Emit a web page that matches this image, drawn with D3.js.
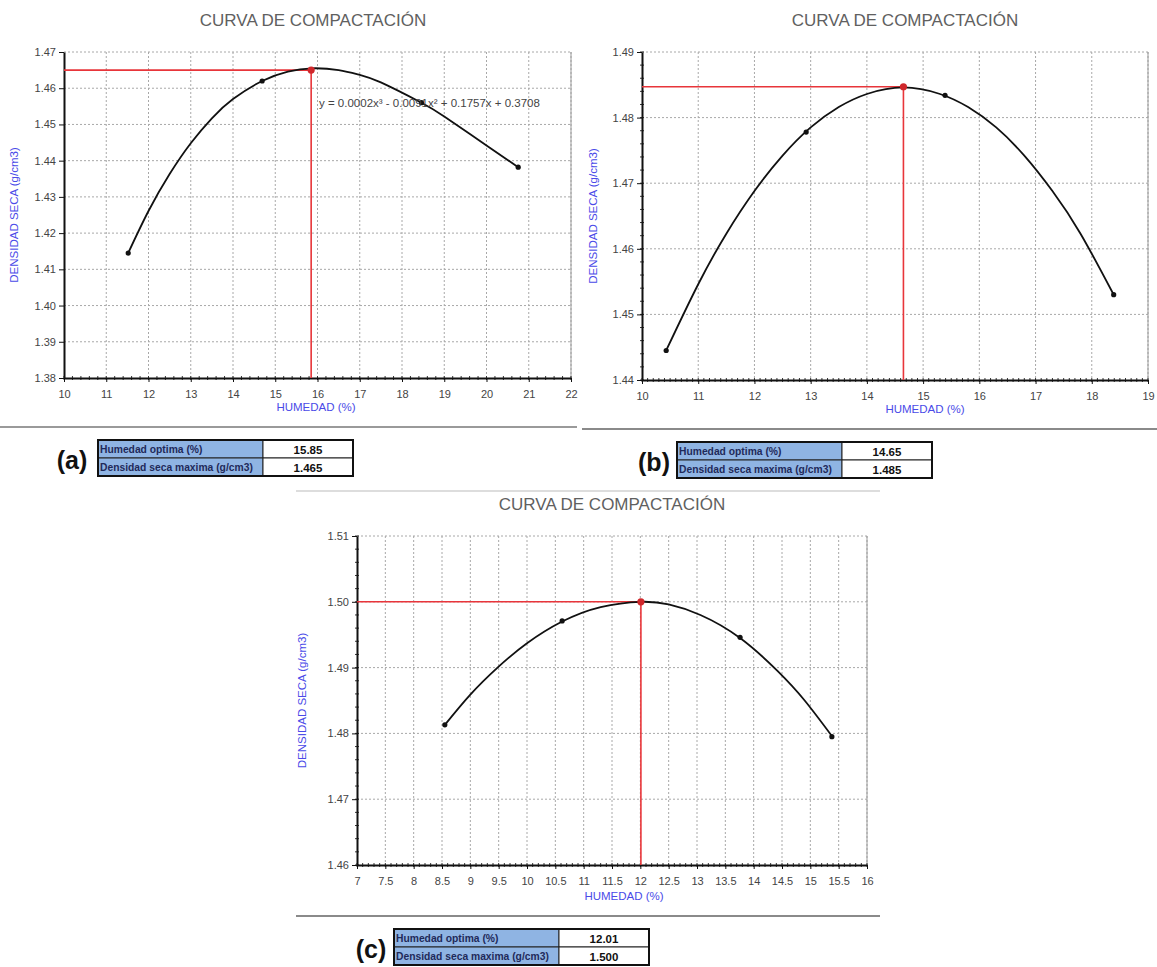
<!DOCTYPE html>
<html><head><meta charset="utf-8">
<script src="https://cdn.jsdelivr.net/npm/d3@7"></script>
<style>body{margin:0;background:#fff;}svg{display:block;font-family:"Liberation Sans",Arial,sans-serif;}</style>
</head><body>
<svg id="c" width="1157" height="967"></svg>
<script>
// ---------- DATA ----------
const titleText = "CURVA DE COMPACTACIÓN";
const xTitle = "HUMEDAD (%)";
const yTitle = "DENSIDAD SECA (g/cm3)";
const rowLabels = ["Humedad optima (%)", "Densidad seca maxima (g/cm3)"];

// Panel (a)
const aXTicks = [10,11,12,13,14,15,16,17,18,19,20,21,22];
const aYTicks = [1.38,1.39,1.40,1.41,1.42,1.43,1.44,1.45,1.46,1.47];
const aPtsX = [11.52, 14.69, 18.46, 20.75];
const aPtsY = [1.4145, 1.4620, 1.4560, 1.4382];
const aTrendX = [11.52, 12, 12.5, 13, 13.5, 14, 14.69, 15.3, 15.87, 16.5, 17, 17.5, 18.46, 19, 20, 20.75];
const aTrendY = [1.4145, 1.4261, 1.4363, 1.4448, 1.4517, 1.4570, 1.4620, 1.4646, 1.4655, 1.4650, 1.4637, 1.4616, 1.4560, 1.4522, 1.4442, 1.4382];
const aOpt = [15.85, 1.465];
const aTable = ["15.85", "1.465"];
const aEquation = "y = 0.0002x³ - 0.0091x² + 0.1757x + 0.3708";

// Panel (b)
const bXTicks = [10,11,12,13,14,15,16,17,18,19];
const bYTicks = [1.44,1.45,1.46,1.47,1.48,1.49];
const bPtsX = [10.43, 12.92, 15.39, 18.39];
const bPtsY = [1.4445, 1.4778, 1.4834, 1.4530];
const bTrendX = [10.43, 11, 11.5, 12, 12.5, 13, 13.5, 14, 14.65, 15.3, 15.8, 16.3, 16.8, 17.3, 17.8, 18.39];
const bTrendY = [1.4445, 1.4546, 1.4623, 1.4688, 1.4742, 1.4785, 1.4816, 1.4836, 1.4846, 1.4836, 1.4816, 1.4785, 1.4742, 1.4688, 1.4623, 1.4530];
const bOpt = [14.65, 1.4847];
const bTable = ["14.65", "1.485"];

// Panel (c)
const cXTicks = [7,7.5,8,8.5,9,9.5,10,10.5,11,11.5,12,12.5,13,13.5,14,14.5,15,15.5,16];
const cYTicks = [1.46,1.47,1.48,1.49,1.50,1.51];
const cPtsX = [8.55, 10.62, 13.76, 15.38];
const cPtsY = [1.4813, 1.4971, 1.4946, 1.4795];
const cTrendX = [8.55, 9.0, 9.48, 10.0, 10.62, 11.3, 12.01, 12.5, 13.06, 13.76, 14.42, 14.9, 15.38];
const cTrendY = [1.4813, 1.4859, 1.4900, 1.4937, 1.4970, 1.4992, 1.5000, 1.4996, 1.4980, 1.4945, 1.4895, 1.4850, 1.4796];
const cOpt = [12.01, 1.500];
const cTable = ["12.01", "1.500"];

// ---------- DRAW ----------
const svg = d3.select("#c");

function panel(cfg){
  const g = svg.append("g");
  const x = d3.scaleLinear().domain(cfg.xDom).range([cfg.left, cfg.right]);
  const y = d3.scaleLinear().domain(cfg.yDom).range([cfg.bottom, cfg.top]);
  // title
  g.append("text").attr("x", cfg.titleX).attr("y", cfg.titleY).attr("text-anchor","middle")
    .attr("font-size", 17).attr("fill","#606060").text(titleText);
  // grid
  g.selectAll(".gx").data(cfg.xTicks.slice(1)).join("line")
    .attr("x1", d=>x(d)).attr("x2", d=>x(d)).attr("y1", cfg.top).attr("y2", cfg.bottom)
    .attr("stroke","#a8a8a8").attr("stroke-width",1).attr("stroke-dasharray","2,2");
  g.selectAll(".gy").data(cfg.yTicks.slice(1)).join("line")
    .attr("x1", cfg.left).attr("x2", cfg.right).attr("y1", d=>y(d)).attr("y2", d=>y(d))
    .attr("stroke","#a8a8a8").attr("stroke-width",1).attr("stroke-dasharray","2,2");
  // right border
  g.append("line").attr("x1",cfg.right).attr("x2",cfg.right).attr("y1",cfg.top).attr("y2",cfg.bottom)
    .attr("stroke","#9a9a9a").attr("stroke-width",1);
  // minor ticks
  if (cfg.xMinor){
    const mx = d3.range(cfg.xDom[0], cfg.xDom[1]+1e-9, cfg.xMinor);
    g.selectAll(".mx").data(mx).join("line")
      .attr("x1", d=>x(d)).attr("x2", d=>x(d)).attr("y1", cfg.bottom-2).attr("y2", cfg.bottom+2)
      .attr("stroke","#333").attr("stroke-width",1);
  }
  if (cfg.yMinor){
    const my = d3.range(cfg.yDom[0], cfg.yDom[1]+1e-9, cfg.yMinor);
    g.selectAll(".my").data(my).join("line")
      .attr("x1", cfg.left-2).attr("x2", cfg.left+2).attr("y1", d=>y(d)).attr("y2", d=>y(d))
      .attr("stroke","#333").attr("stroke-width",1);
  }
  // axes
  const xa = g.append("g").attr("transform",`translate(0,${cfg.bottom})`)
    .call(d3.axisBottom(x).tickValues(cfg.xTicks).tickSize(4).tickSizeOuter(0).tickFormat(cfg.xFmt));
  const ya = g.append("g").attr("transform",`translate(${cfg.left},0)`)
    .call(d3.axisLeft(y).tickValues(cfg.yTicks).tickSize(5).tickSizeOuter(0).tickFormat(d3.format(".2f")));
  [xa, ya].forEach(a=>{
    a.select(".domain").attr("stroke","#111").attr("stroke-width",2);
    a.selectAll(".tick line").attr("stroke","#111");
    a.selectAll("text").attr("fill","#444").attr("font-size",11).attr("font-family","'Liberation Sans',Arial,sans-serif");
  });
  xa.selectAll("text").attr("dy","1.15em");
  // axis titles
  g.append("text").attr("x", cfg.xTitleX).attr("y", cfg.xTitleY).attr("text-anchor","middle")
    .attr("font-size",11.5).attr("fill","#4a4ae8").text(xTitle);
  g.append("text").attr("transform",`translate(${cfg.yTitleX},${(cfg.top+cfg.bottom)/2}) rotate(-90)`)
    .attr("text-anchor","middle").attr("font-size",11.5).attr("fill","#4a4ae8").text(yTitle);
  // optimum red lines
  g.append("path").attr("d", `M${x(cfg.xDom[0])},${y(cfg.opt[1])}H${x(cfg.opt[0])}V${y(cfg.yDom[0])}`)
    .attr("fill","none").attr("stroke","#e8353a").attr("stroke-width",1.6);
  // trend curve
  const pts = cfg.trendX.map((v,i)=>[v, cfg.trendY[i]]);
  g.append("path").datum(pts)
    .attr("d", d3.line().x(d=>x(d[0])).y(d=>y(d[1])).curve(d3.curveNatural))
    .attr("fill","none").attr("stroke","#111").attr("stroke-width",1.8);
  // points
  g.selectAll(".pt").data(cfg.ptsX.map((v,i)=>[v, cfg.ptsY[i]])).join("circle")
    .attr("cx", d=>x(d[0])).attr("cy", d=>y(d[1])).attr("r",2.6).attr("fill","#111");
  g.append("circle").attr("cx", x(cfg.opt[0])).attr("cy", y(cfg.opt[1])).attr("r",3.6)
    .attr("fill","#d0282c");
  if (cfg.equation){
    g.append("text").attr("x", cfg.eqX).attr("y", cfg.eqY).attr("font-size",11.5).attr("fill","#444")
      .text(cfg.equation);
  }
  // table
  const t = svg.append("g").attr("transform",`translate(${cfg.tableX},${cfg.tableY})`);
  const w1 = 165, w2 = 90, rh = 18;
  rowLabels.forEach((lab,i)=>{
    t.append("rect").attr("x",0).attr("y",i*rh).attr("width",w1).attr("height",rh)
      .attr("fill","#8fb4e3").attr("stroke","#222").attr("stroke-width",1);
    t.append("rect").attr("x",w1).attr("y",i*rh).attr("width",w2).attr("height",rh)
      .attr("fill","#fff").attr("stroke","#222").attr("stroke-width",1);
    t.append("text").attr("x",2).attr("y",i*rh+13).attr("font-size",10.3).attr("font-weight","bold")
      .attr("fill","#1f2a5a").text(lab);
    t.append("text").attr("x",w1+w2/2).attr("y",i*rh+13.5).attr("text-anchor","middle")
      .attr("font-size",11.5).attr("font-weight","bold").attr("fill","#111").text(cfg.table[i]);
  });
  t.append("rect").attr("x",0).attr("y",0).attr("width",w1+w2).attr("height",2*rh)
    .attr("fill","none").attr("stroke","#111").attr("stroke-width",2);
  svg.append("text").attr("x", cfg.tagX).attr("y", cfg.tableY+29).attr("text-anchor","middle")
    .attr("font-size",25).attr("font-weight","bold").attr("font-family","'Liberation Sans',Arial,sans-serif")
    .attr("fill","#111").text(cfg.tag);
}

const fmtInt = d3.format("d");
const fmtHalf = d => (Math.round(d)===d ? String(d) : d.toFixed(1));

panel({xDom:[10,22], yDom:[1.38,1.47], left:64, right:571, top:52, bottom:378,
  xTicks:aXTicks, yTicks:aYTicks, xFmt:fmtInt, xMinor:0.2, yMinor:null,
  ptsX:aPtsX, ptsY:aPtsY, trendX:aTrendX, trendY:aTrendY, opt:aOpt, table:aTable,
  titleX:313, titleY:26, xTitleX:316, xTitleY:411, yTitleX:18,
  equation:aEquation, eqX:319, eqY:107,
  tableX:98, tableY:440, tag:"(a)", tagX:72});

panel({xDom:[10,19], yDom:[1.44,1.49], left:642, right:1148, top:52, bottom:380,
  xTicks:bXTicks, yTicks:bYTicks, xFmt:fmtInt, xMinor:0.1, yMinor:0.002,
  ptsX:bPtsX, ptsY:bPtsY, trendX:bTrendX, trendY:bTrendY, opt:bOpt, table:bTable,
  titleX:905, titleY:26, xTitleX:925, xTitleY:413, yTitleX:597,
  tableX:677, tableY:442, tag:"(b)", tagX:654});

panel({xDom:[7,16], yDom:[1.46,1.51], left:357, right:867, top:536, bottom:865,
  xTicks:cXTicks, yTicks:cYTicks, xFmt:fmtHalf, xMinor:0.1, yMinor:0.002,
  ptsX:cPtsX, ptsY:cPtsY, trendX:cTrendX, trendY:cTrendY, opt:cOpt, table:cTable,
  titleX:612, titleY:510, xTitleX:624, xTitleY:900, yTitleX:306,
  tableX:394, tableY:929, tag:"(c)", tagX:371});

// separators
svg.append("line").attr("x1",0).attr("x2",577).attr("y1",427).attr("y2",427).attr("stroke","#9a9a9a").attr("stroke-width",2);
svg.append("line").attr("x1",582).attr("x2",1157).attr("y1",429).attr("y2",429).attr("stroke","#8a8a8a").attr("stroke-width",2);
svg.append("line").attr("x1",296).attr("x2",880).attr("y1",491).attr("y2",491).attr("stroke","#dddddd").attr("stroke-width",2);
svg.append("line").attr("x1",296).attr("x2",880).attr("y1",916).attr("y2",916).attr("stroke","#8a8a8a").attr("stroke-width",2);
</script>
</body></html>
